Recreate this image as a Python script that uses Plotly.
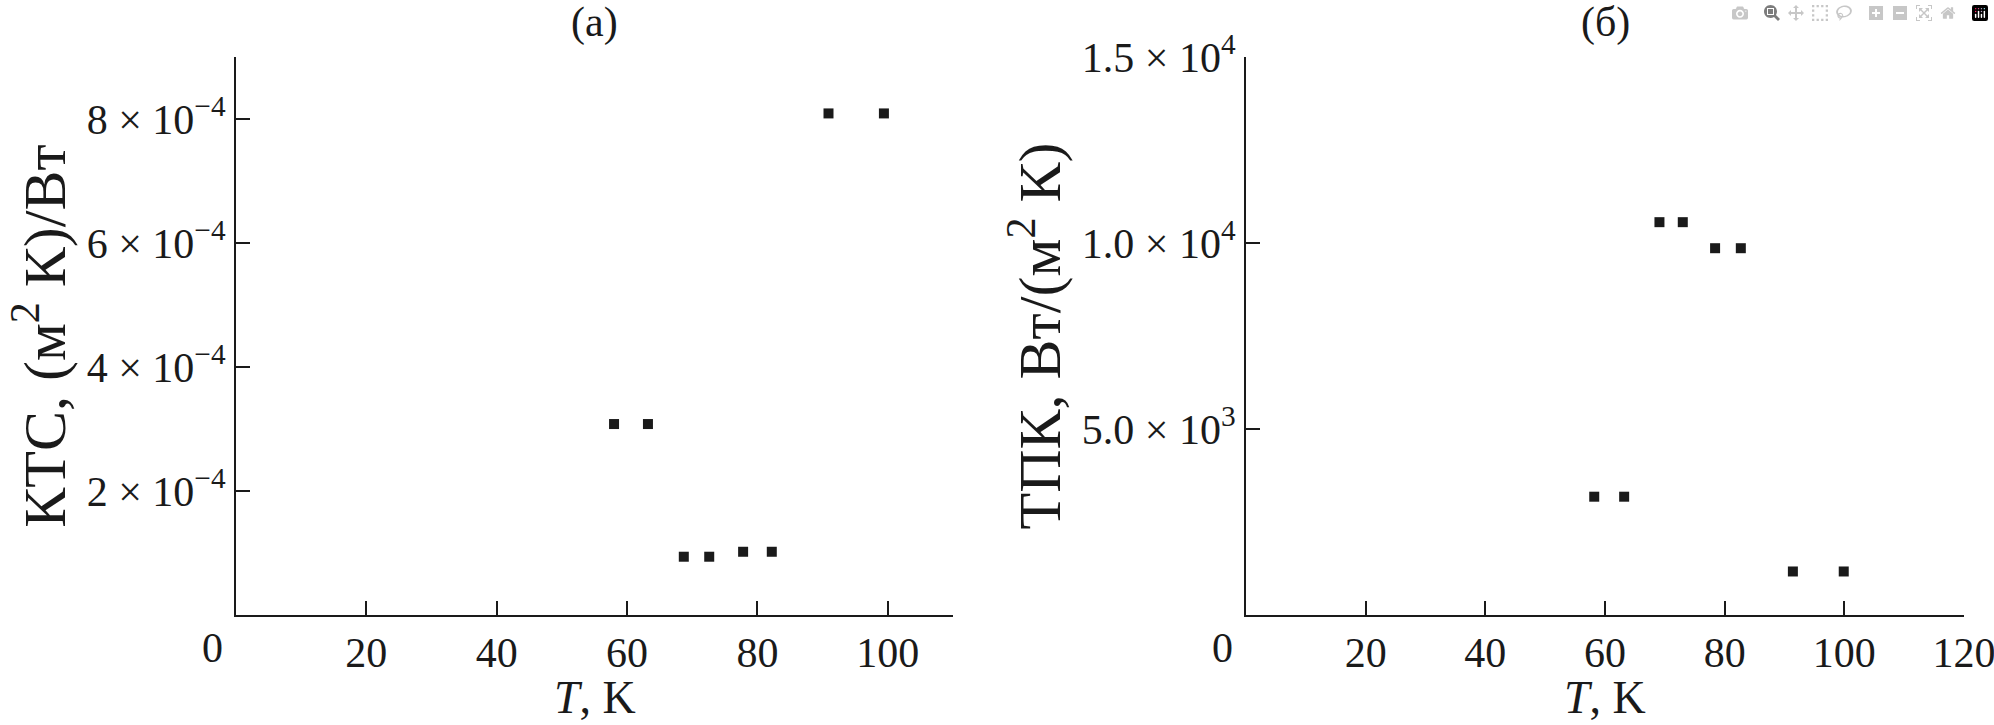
import plotly.graph_objects as go

# (a) KTC vs T
t_a = [58.0, 63.2, 68.7, 72.6, 77.8, 82.2, 90.9, 99.4]
ktc = [3.08e-4, 3.08e-4, 0.94e-4, 0.94e-4, 1.02e-4, 1.02e-4, 8.09e-4, 8.09e-4]

# (б) TPK vs T
t_b = [58.2, 63.2, 69.1, 73.0, 78.4, 82.7, 91.4, 99.9]
tpk = [3.18e3, 3.18e3, 10.56e3, 10.56e3, 9.86e3, 9.86e3, 1.17e3, 1.17e3]

x_ticks_a = [20, 40, 60, 80, 100]
x_ticks_b = [20, 40, 60, 80, 100, 120]
y_ticks_a = [2e-4, 4e-4, 6e-4, 8e-4]
y_text_a = ["2 × 10<sup>−4</sup>", "4 × 10<sup>−4</sup>",
            "6 × 10<sup>−4</sup>", "8 × 10<sup>−4</sup>"]
y_ticks_b = [5e3, 1e4, 1.5e4]
y_text_b = ["5.0 × 10<sup>3</sup>", "1.0 × 10<sup>4</sup>", "1.5 × 10<sup>4</sup>"]

FONT = "Liberation Serif, Times New Roman, serif"
INK = "#1a1a1a"
W, H = 1994, 725
FS = 42      # tick labels
FS_X = 46    # x titles
FS_Y = 60    # y titles

fig = go.Figure()
marker = dict(symbol="square", size=10, color=INK, line=dict(width=0))
fig.add_trace(go.Scatter(x=t_a, y=ktc, mode="markers", marker=marker,
                         xaxis="x", yaxis="y", showlegend=False))
fig.add_trace(go.Scatter(x=t_b, y=tpk, mode="markers", marker=marker,
                         xaxis="x2", yaxis="y2", showlegend=False))

axis_style = dict(
    showline=True, linecolor=INK, linewidth=2, mirror=False,
    ticks="inside", ticklen=14, tickwidth=1.5, tickcolor=INK,
    showgrid=False, zeroline=False, automargin=False,
    ticklabeloverflow="allow",
    tickfont=dict(family=FONT, size=FS, color=INK),
)
ydom = [1 - 615 / H, 1 - 57 / H]

fig.update_layout(
    width=W, height=H,
    paper_bgcolor="white", plot_bgcolor="white",
    margin=dict(l=0, r=0, t=0, b=0),
    font=dict(family=FONT, color=INK, size=FS),
    xaxis=dict(domain=[236 / W, 953 / W], range=[0, 110],
               tickvals=x_ticks_a, anchor="y", **axis_style),
    yaxis=dict(domain=ydom, range=[0, 9e-4], tickvals=y_ticks_a,
               ticktext=y_text_a, anchor="x",
               title=dict(text="КТС, (м<sup>2</sup> К)/Вт", standoff=2,
                          font=dict(family=FONT, size=FS_Y, color=INK)),
               **axis_style),
    xaxis2=dict(domain=[1246 / W, 1964 / W], range=[0, 120],
                tickvals=x_ticks_b, anchor="y2", **axis_style),
    yaxis2=dict(domain=ydom, range=[0, 1.5e4], tickvals=y_ticks_b,
                ticktext=y_text_b, anchor="x2",
                title=dict(text="ТПК, Вт/(м<sup>2</sup> К)", standoff=2,
                           font=dict(family=FONT, size=FS_Y, color=INK)),
                **axis_style),
)

# panel letters, x titles and the offset "0" labels
for xref, label in [("x", "(a)"), ("x2", "(б)")]:
    fig.add_annotation(text=label, xref=xref + " domain", yref="paper",
                       x=0.5, y=1 - 23 / H, yanchor="middle",
                       showarrow=False, font=dict(family=FONT, size=FS, color=INK))
    fig.add_annotation(text="<i>T</i>, K", xref=xref + " domain", yref="paper",
                       x=0.5, y=0, yanchor="bottom",
                       showarrow=False, font=dict(family=FONT, size=FS_X, color=INK))
    fig.add_annotation(text="0", xref=xref, yref="paper", x=0, xshift=-24,
                       y=1 - 648 / H, yanchor="middle", showarrow=False,
                       font=dict(family=FONT, size=FS, color=INK))

fig.write_html("out.html", post_script="document.body.style.margin='0';")
